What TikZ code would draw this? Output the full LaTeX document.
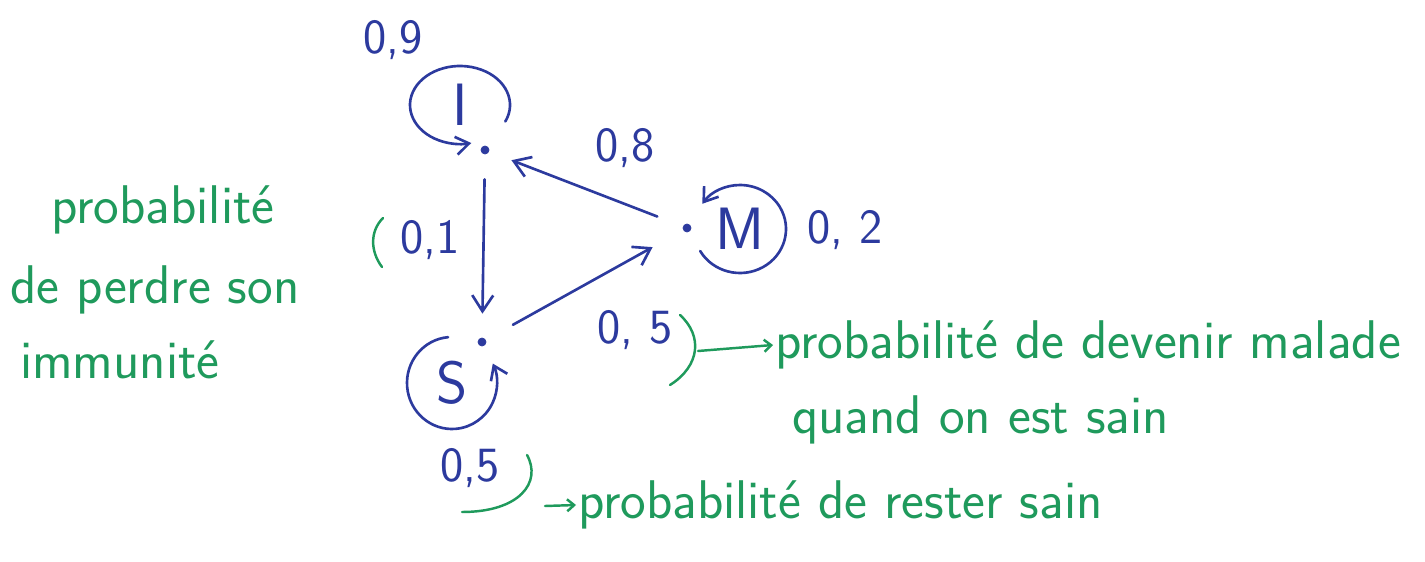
\documentclass[tikz,border=0pt]{standalone}
\usepackage{tikz}
\usetikzlibrary{arrows.meta,calc,positioning}
\usepackage{xcolor}
\definecolor{InkBlue}{HTML}{2C3A9E}
\definecolor{InkGreen}{HTML}{1F9A5C}

\begin{document}
\begin{tikzpicture}[
  x=1cm,y=1cm,font=\sffamily,>=Latex,
  edge/.style={-{Straight Barb[length=3.2mm,width=4.2mm]},draw=InkBlue,line width=1.5pt,line cap=round},
  loopedge/.style={-{Straight Barb[length=2.6mm,width=3.6mm]},draw=InkBlue,line width=1.5pt,line cap=round},
  dot/.style={circle,draw=InkBlue,fill=InkBlue,inner sep=0pt,minimum size=1.6mm},
  state/.style={text=InkBlue,font=\sffamily\fontsize{34}{36}\selectfont,inner sep=0pt},
  prob/.style={text=InkBlue,font=\sffamily\fontsize{28}{30}\selectfont,inner sep=1pt},
  note/.style={text=InkGreen,font=\sffamily\fontsize{31}{34}\selectfont,inner sep=1pt},
  inkmark/.style={draw=InkGreen,line width=1.4pt,line cap=round}
]
\useasboundingbox (0,0) rectangle (28.5,11.22);

% States.
\node[dot] (pI) at (9.70,8.22) {};
\node[dot] (pM) at (13.74,6.66) {};
\node[dot] (pS) at (9.64,4.38) {};
\node[state] (I) at (9.20,9.12) {I};
\node[state] (M) at (14.80,6.64) {M};
\node[state] (S) at (9.04,3.56) {S};

% Transitions.
\draw[edge,shorten <=0.5cm,shorten >=0.48cm] (pI) -- (pS);
\draw[edge,shorten <=0.55cm,shorten >=0.48cm] (pM) -- (pI);
\draw[edge,shorten <=0.62cm,shorten >=0.7cm] (pS) -- (pM);

% Loops.
\draw[loopedge] ([shift={(-25:1.0 and 0.78)}]I.center) arc[start angle=-25,end angle=283,x radius=1.0,y radius=0.78];
\draw[loopedge] ([shift={(210:0.92 and 0.88)}]M.center) arc[start angle=210,end angle=505,x radius=0.92,y radius=0.88];
\draw[loopedge] ([shift={(95:0.9 and 0.92)}]S.center) arc[start angle=95,end angle=385,x radius=0.9,y radius=0.92];

% Probabilities.
\node[prob] (lI) at (7.86,10.42) {0,9};
\node[prob] (lMI) at (12.50,8.26) {0,8};
\node[prob] (lIS) at (8.60,6.42) {0,1};
\node[prob] (lM) at (16.90,6.62) {0, 2};
\node[prob] (lSM) at (12.70,4.62) {0, 5};
\node[prob] (lS) at (9.40,1.86) {0,5};

% Notes.
\node[note] (n1a) at (3.26,7.02) {probabilité};
\node[note,anchor=west] (n1b) at (0.16,5.42) {de perdre son};
\node[note,anchor=west] (n1c) at (0.36,4.02) {immunité};
\node[note,anchor=west] (n2a) at (15.46,4.32) {probabilité de devenir malade};
\node[note,anchor=west] (n2b) at (15.80,2.82) {quand on est sain};
\node[note,anchor=west] (n3) at (11.52,1.12) {probabilité de rester sain};

\coordinate (b1) at (7.66,6.86);
\draw[inkmark] (b1) .. controls (7.40,6.60) and (7.40,6.20) .. (7.64,5.88);
\coordinate (b2) at (13.60,4.92);
\draw[inkmark] (b2) .. controls (14.06,4.50) and (14.00,3.90) .. (13.40,3.52);
\draw[inkmark,-{Straight Barb[length=1.4mm,width=2.4mm]}] (13.96,4.20) -- (n2a.west);
\coordinate (b3) at (10.54,2.12);
\draw[inkmark] (b3) .. controls (10.84,1.58) and (10.40,0.98) .. (9.24,0.98);
\draw[inkmark,-{Straight Barb[length=1.4mm,width=2.4mm]}] (10.90,1.10) -- (n3.west);
\end{tikzpicture}
\end{document}
